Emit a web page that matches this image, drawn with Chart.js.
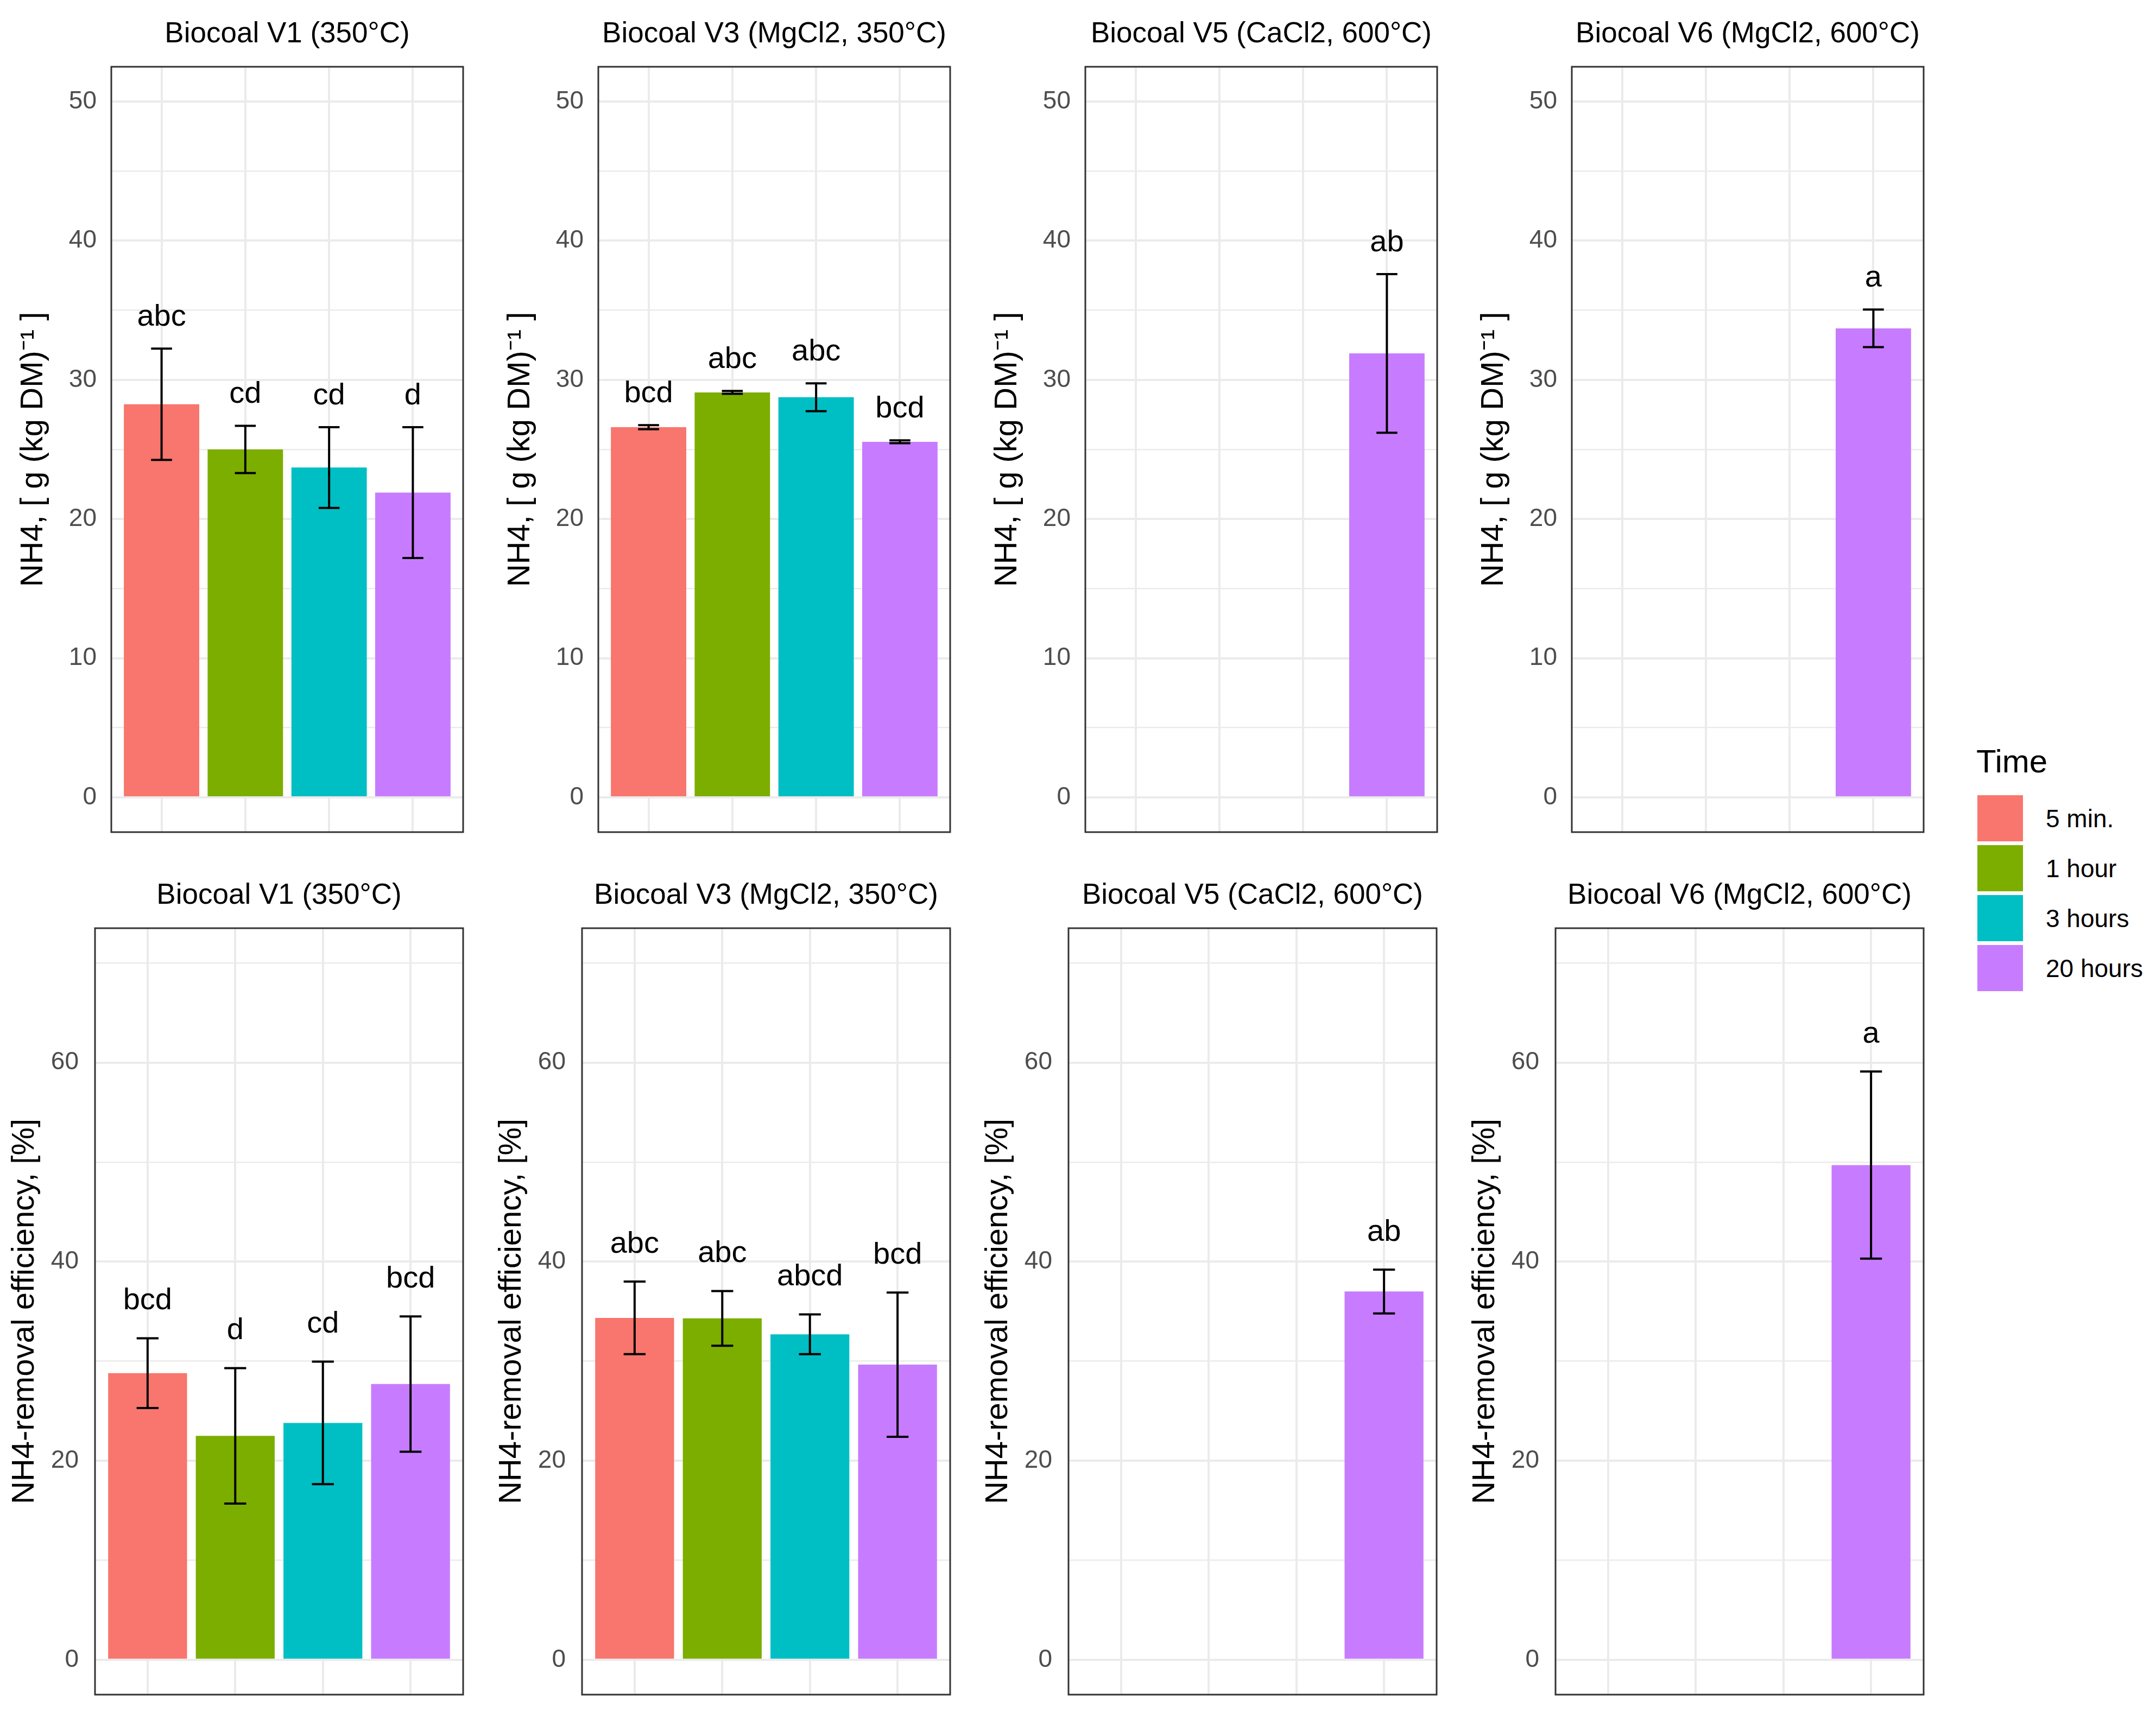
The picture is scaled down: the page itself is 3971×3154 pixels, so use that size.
<!DOCTYPE html>
<html>
<head>
<meta charset="utf-8">
<script src="https://cdn.jsdelivr.net/npm/chart.js@4/dist/chart.umd.min.js"></script>
<style>
  html, body { margin: 0; padding: 0; background: #ffffff; }
  body { width: 3971px; height: 3154px; position: relative; overflow: hidden; font-family: "Liberation Sans", Arial, sans-serif; }
  canvas { position: absolute; }
  .lg-title { position: absolute; left: 3640px; top: 1373px; font-size: 60px; line-height: 60px; color: #000; white-space: nowrap; }
  .lg-item { position: absolute; left: 3642px; height: 85px; display: flex; align-items: center; white-space: nowrap; }
  .lg-sw { width: 84px; height: 85px; }
  .lg-lab { margin-left: 42px; font-size: 46px; line-height: 46px; color: #000; }
</style>
</head>
<body>
<div id="legend"></div>
<script>
// ---------------- data ----------------
const categories = ['5 min.', '1 hour', '3 hours', '20 hours'];
const timeColors = ['#F8766D', '#7CAE00', '#00BFC4', '#C77CFF'];
const legendTitle = 'Time';

const panelTitles = ['Biocoal V1 (350°C)', 'Biocoal V3 (MgCl2, 350°C)', 'Biocoal V5 (CaCl2, 600°C)', 'Biocoal V6 (MgCl2, 600°C)'];

const nh4AxisTitle = 'NH4, [ g (kg DM)⁻¹ ]';
const effAxisTitle = 'NH4-removal efficiency, [%]';

const nh4MajorTicks = [0, 10, 20, 30, 40, 50];
const nh4MinorTicks = [5, 15, 25, 35, 45];
const effMajorTicks = [0, 20, 40, 60];
const effMinorTicks = [10, 30, 50, 70];

// NH4 sorption, g (kg DM)^-1
const v1NH4 = [28.25, 25.0, 23.7, 21.9];
const v1NH4Sd = [4.0, 1.7, 2.9, 4.7];
const v1NH4Letters = ['abc', 'cd', 'cd', 'd'];
const v3NH4 = [26.6, 29.1, 28.75, 25.55];
const v3NH4Sd = [0.15, 0.1, 1.0, 0.1];
const v3NH4Letters = ['bcd', 'abc', 'abc', 'bcd'];
const v5NH4 = [null, null, null, 31.9];
const v5NH4Sd = [null, null, null, 5.7];
const v5NH4Letters = [null, null, null, 'ab'];
const v6NH4 = [null, null, null, 33.7];
const v6NH4Sd = [null, null, null, 1.35];
const v6NH4Letters = [null, null, null, 'a'];

// NH4 removal efficiency, %
const v1Eff = [28.8, 22.5, 23.8, 27.7];
const v1EffSd = [3.5, 6.8, 6.15, 6.8];
const v1EffLetters = ['bcd', 'd', 'cd', 'bcd'];
const v3Eff = [34.35, 34.3, 32.7, 29.65];
const v3EffSd = [3.65, 2.75, 2.0, 7.25];
const v3EffLetters = ['abc', 'abc', 'abcd', 'bcd'];
const v5Eff = [null, null, null, 37.0];
const v5EffSd = [null, null, null, 2.2];
const v5EffLetters = [null, null, null, 'ab'];
const v6Eff = [null, null, null, 49.7];
const v6EffSd = [null, null, null, 9.4];
const v6EffLetters = [null, null, null, 'a'];

// ---------------- layout ----------------
const FONT = '"Liberation Sans", Arial, sans-serif';
const rows = [
  { top: 123, boxH: 1410, boxW: 648, lefts: [205, 1102, 1999, 2895], axisW: 172, tickPad: 27,
    yMin: -2.5, yMax: 52.5, major: nh4MajorTicks, minor: nh4MinorTicks, axisTitle: nh4AxisTitle, labelGap: 1.65,
    series: [[v1NH4, v1NH4Sd, v1NH4Letters], [v3NH4, v3NH4Sd, v3NH4Letters], [v5NH4, v5NH4Sd, v5NH4Letters], [v6NH4, v6NH4Sd, v6NH4Letters]] },
  { top: 1710, boxH: 1412, boxW: 678, lefts: [175, 1072, 1968, 2865], axisW: 158, tickPad: 30,
    yMin: -3.5, yMax: 73.5, major: effMajorTicks, minor: effMinorTicks, axisTitle: effAxisTitle, labelGap: 2.9,
    series: [[v1Eff, v1EffSd, v1EffLetters], [v3Eff, v3EffSd, v3EffLetters], [v5Eff, v5EffSd, v5EffLetters], [v6Eff, v6EffSd, v6EffLetters]] }
];
const TITLE_SIZE = 53, TITLE_GAP = 33, PAD = 4;

function makeDecor(values, sds, letters, labelGap) {
  return {
    id: 'decor',
    afterDatasetsDraw(chart) {
      const { ctx, chartArea: a, scales: { x, y } } = chart;
      ctx.save();
      values.forEach((v, i) => {
        if (v == null) return;
        const xi = i + 1;
        const cx = x.getPixelForValue(xi);
        const hw = x.getPixelForValue(xi + 0.125) - cx;
        const yt = y.getPixelForValue(v + sds[i]);
        const yb = y.getPixelForValue(v - sds[i]);
        ctx.strokeStyle = '#000';
        ctx.lineWidth = 4;
        ctx.beginPath();
        ctx.moveTo(cx, yt); ctx.lineTo(cx, yb);
        ctx.moveTo(cx - hw, yt); ctx.lineTo(cx + hw, yt);
        ctx.moveTo(cx - hw, yb); ctx.lineTo(cx + hw, yb);
        ctx.stroke();
        ctx.fillStyle = '#000';
        ctx.font = '56px ' + FONT;
        ctx.textAlign = 'center';
        ctx.textBaseline = 'alphabetic';
        ctx.fillText(letters[i], cx, y.getPixelForValue(v + sds[i] + labelGap));
      });
      ctx.strokeStyle = '#333333';
      ctx.lineWidth = 3;
      ctx.strokeRect(a.left, a.top, a.right - a.left, a.bottom - a.top);
      ctx.restore();
    }
  };
}

rows.forEach((row) => {
  row.lefts.forEach((boxLeft, p) => {
    const [values, sds, letters] = row.series[p];
    const cv = document.createElement('canvas');
    const w = row.axisW + row.boxW + PAD;
    const h = TITLE_SIZE + TITLE_GAP + row.boxH + PAD;
    cv.width = w; cv.height = h;
    cv.style.width = w + 'px'; cv.style.height = h + 'px';
    cv.style.left = (boxLeft - row.axisW) + 'px';
    cv.style.top = (row.top - TITLE_SIZE - TITLE_GAP) + 'px';
    document.body.appendChild(cv);

    const pts = [], cols = [];
    values.forEach((v, i) => { if (v != null) { pts.push({ x: i + 1, y: v }); cols.push(timeColors[i]); } });
    const allTicks = row.major.concat(row.minor).sort((a, b) => a - b);

    new Chart(cv, {
      type: 'bar',
      data: { datasets: [{ label: panelTitles[p], data: pts, backgroundColor: cols, borderWidth: 0, barPercentage: 0.9, categoryPercentage: 1.0 }] },
      options: {
        responsive: false, animation: false, devicePixelRatio: 1,
        layout: { autoPadding: false, padding: { left: 0, top: 0, right: PAD, bottom: PAD } },
        plugins: {
          legend: { display: false }, tooltip: { enabled: false },
          title: { display: true, text: panelTitles[p], fullSize: false, color: '#000',
                   font: { family: FONT, size: TITLE_SIZE, weight: 'normal', lineHeight: 1 },
                   padding: { top: 0, bottom: TITLE_GAP } }
        },
        scales: {
          x: {
            type: 'linear', min: 0.4, max: 4.6, offset: false,
            afterBuildTicks: (s) => { s.ticks = categories.map((c, i) => ({ value: i + 1 })); },
            afterFit: (s) => { s.height = 0; s.paddingLeft = 0; s.paddingRight = 0; s.paddingTop = 0; s.paddingBottom = 0; },
            ticks: { display: false },
            grid: { color: '#EBEBEB', lineWidth: 4, drawTicks: false, offset: false },
            border: { display: false }
          },
          y: {
            min: row.yMin, max: row.yMax,
            afterBuildTicks: (s) => { s.ticks = allTicks.map(v => ({ value: v })); },
            afterFit: (s) => { s.width = row.axisW; s.paddingTop = 0; s.paddingBottom = 0; s.paddingLeft = 0; s.paddingRight = 0; },
            ticks: { autoSkip: false, padding: row.tickPad, color: '#4D4D4D', font: { family: FONT, size: 46 },
                     callback: (v) => row.major.includes(v) ? String(v) : '' },
            grid: { color: '#EBEBEB', drawTicks: false,
                    lineWidth: (c) => (c.tick && row.major.includes(c.tick.value)) ? 4 : 2.5 },
            border: { display: false },
            title: { display: true, text: row.axisTitle, color: '#000', font: { family: FONT, size: 58, lineHeight: 1 }, padding: { top: 0, bottom: 0 } }
          }
        }
      },
      plugins: [makeDecor(values, sds, letters, row.labelGap)]
    });
  });
});

// ---------------- legend ----------------
const lg = document.getElementById('legend');
const t = document.createElement('div'); t.className = 'lg-title'; t.textContent = legendTitle; lg.appendChild(t);
categories.forEach((c, i) => {
  const it = document.createElement('div'); it.className = 'lg-item'; it.style.top = (1465 + i * 92) + 'px';
  const sw = document.createElement('div'); sw.className = 'lg-sw'; sw.style.background = timeColors[i];
  const lb = document.createElement('div'); lb.className = 'lg-lab'; lb.textContent = c;
  it.appendChild(sw); it.appendChild(lb); lg.appendChild(it);
});
</script>
</body>
</html>
